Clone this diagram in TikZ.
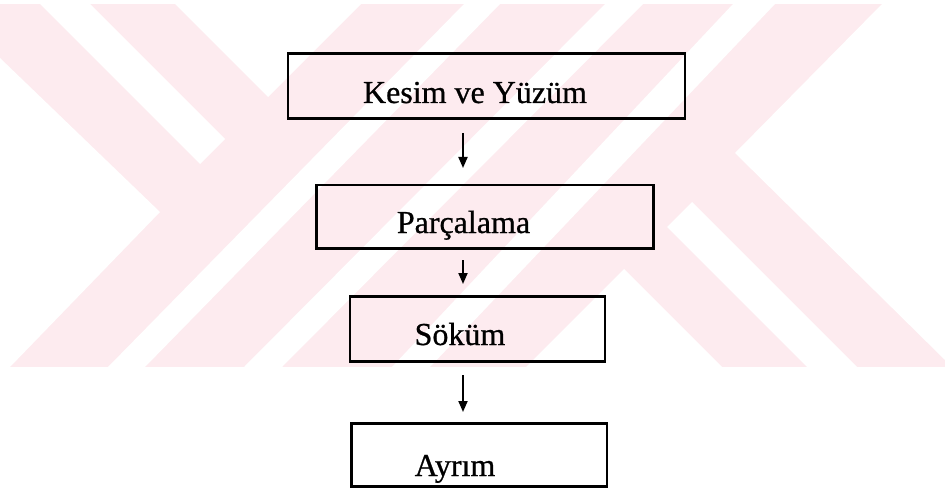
\documentclass[tikz,border=0pt]{standalone}
\usepackage{fontspec}
\setmainfont{Liberation Serif}
\newfontfamily\scanfont[FakeBold=0.7]{Liberation Serif}
\usetikzlibrary{arrows.meta,calc}
\definecolor{wmpink}{RGB}{253,235,239}
\begin{document}
\begin{tikzpicture}[x=1pt,y=-1pt,
  stepbox/.style={draw=black, line width=2.6pt, rectangle, inner sep=0pt, outer sep=0pt},
  lbl/.style={anchor=base, font=\scanfont\fontsize{32}{36}\selectfont, inner sep=0pt},
  arr/.style={line width=1.9pt, -{Triangle[length=11pt,width=9pt]}},
  wmwhite/.style={fill=white}]
\useasboundingbox (0,0) rectangle (945,492);
% watermark
\fill[wmpink] (0,4) rectangle (945,367);
\fill[wmwhite] (0,58) -- (160,212) -- (10,367) -- (0,367) -- cycle;
\fill[wmwhite] (40,4) -- (90,4) -- (225,139) -- (200,164) -- cycle;
\fill[wmwhite] (175,4) -- (268,97) -- (361,4) -- cycle;
\fill[wmwhite] (464,4) -- (500,4) -- (145,367) -- (108,367) -- cycle;
\fill[wmwhite] (605,4) -- (643,4) -- (282,367) -- (244,367) -- cycle;
\fill[wmwhite] (733,4) -- (775,4) -- (430,367) -- (392,367) -- cycle;
\fill[wmwhite] (667,227) -- (692,202) -- (857,367) -- (807,367) -- cycle;
\fill[wmwhite] (526,367) -- (624,269) -- (722,367) -- cycle;
\fill[wmwhite] (882,4) -- (735,153) -- (945,360) -- (945,4) -- cycle;
% boxes
\node[stepbox, minimum width=397pt, minimum height=65pt] (k) at (486.5,86) {};
\node[stepbox, minimum width=337pt, minimum height=63.5pt] (p) at (485,216.75) {};
\node[stepbox, minimum width=255pt, minimum height=65pt] (s) at (477.5,329) {};
\node[stepbox, minimum width=255.5pt, minimum height=63pt] (a) at (479.25,455) {};
% texts
\node[lbl] (kt) at (475,103) {Kesim ve Yüzüm};
\node[lbl] (pt) at (463.5,233) {Parçalama};
\node[lbl] (st) at (460,345) {Söküm};
\node[lbl] (at) at (455,476) {Ayrım};
% arrows
\coordinate (axis) at (463,0);
\draw[arr, shorten <=14.5pt, shorten >=17pt] (k.south -| axis) -- (p.north -| axis);
\draw[arr, shorten <=11.5pt, shorten >=12.5pt] (p.south -| axis) -- (s.north -| axis);
\draw[arr, shorten <=13.5pt, shorten >=11.5pt] (s.south -| axis) -- (a.north -| axis);
\end{tikzpicture}
\end{document}
